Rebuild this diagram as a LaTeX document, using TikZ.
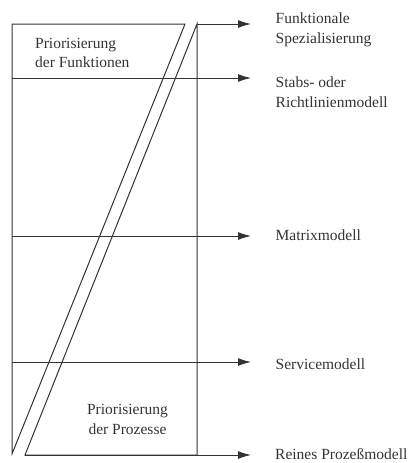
\documentclass[tikz,border=0pt]{standalone}
\usepackage{fontspec}
\setmainfont{Liberation Serif}
\usetikzlibrary{arrows.meta}
\definecolor{ink}{gray}{0.2}
\begin{document}
\begin{tikzpicture}[x=1pt,y=-1pt,
  frame/.style={draw=ink,line width=1pt,line join=miter},
  arrowline/.style={draw=ink,line width=1pt,-{Latex[length=13pt,width=8pt]}},
  lbl/.style={inner sep=0pt,text=ink,font=\fontsize{15.5}{19.5}\selectfont,align=left}]
\useasboundingbox (0,0) rectangle (412,463);
% frame coordinates
\coordinate (tl) at (12,24);
\coordinate (d1top) at (185,24);
\coordinate (d1bot) at (12,454);
\coordinate (d2top) at (197,24);
\coordinate (d2bot) at (25,455);
\coordinate (rb) at (197,455);
% line start points on the left edge
\coordinate (s2) at (12,78);
\coordinate (s3) at (12,236);
\coordinate (s4) at (12,362);
% arrow tips
\coordinate (t1) at (251,24);
\coordinate (t2) at (251,78);
\coordinate (t3) at (251,236);
\coordinate (t4) at (251,362);
\coordinate (t5) at (251,455);
% shapes
\draw[frame] (d1top) -- (tl) -- (d1bot) -- cycle;
\draw[frame] (d2top) -- (rb) -- (d2bot) -- cycle;
% arrows
\draw[arrowline] (d2top) -- (t1);
\draw[arrowline] (s2) -- (t2);
\draw[arrowline] (s3) -- (t3);
\draw[arrowline] (s4) -- (t4);
\draw[arrowline] (d2bot) -- (t5);
% labels
\node[lbl,anchor=north west] (l1) at (275.5,12.6) {Funktionale\\Spezialisierung};
\node[lbl,anchor=north west] (l2) at (275.5,76.6) {Stabs- oder\\Richtlinienmodell};
\node[lbl,anchor=base west] (l3) at (275.5,240.7) {Matrixmodell};
\node[lbl,anchor=base west] (l4) at (275.5,369) {Servicemodell};
\node[lbl,anchor=base west] (l5) at (275,459.8) {Reines Prozeßmodell};
\node[lbl,anchor=north west] (pf) at (35,37.6) {Priorisierung\\der Funktionen};
\node[lbl,anchor=north,align=center] (pp) at (127.5,404.3) {Priorisierung\\der Prozesse};
\end{tikzpicture}
\end{document}
